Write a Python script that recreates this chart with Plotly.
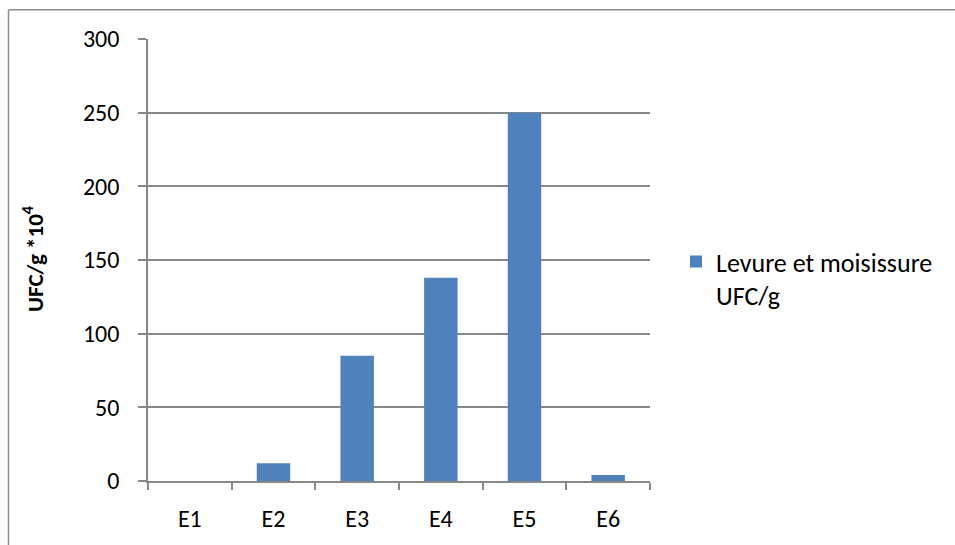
import plotly.graph_objects as go

# Yeast and mould counts per sample
samples = ["E1", "E2", "E3", "E4", "E5", "E6"]
counts = [0, 12, 85, 138, 250, 4]
series_name = "Levure et moisissure<br>UFC/g"
y_ticks = [0, 50, 100, 150, 200, 250, 300]

AXIS_GRAY = "#878787"
BAR_BLUE = "#4F81BD"
FONT = "Carlito, Lato, sans-serif"

fig = go.Figure(
    go.Bar(
        x=samples,
        y=counts,
        name=series_name,
        marker=dict(color=BAR_BLUE, line=dict(width=0)),
        showlegend=True,
    )
)

W, H = 955, 545
L, R, T, B = 148, 305, 39, 62
pw, ph = W - L - R, H - T - B

def px_x(px):
    return (px - L) / pw

def px_y(py):
    return (H - B - py) / ph

fig.update_layout(
    width=W,
    height=H,
    margin=dict(l=L, r=R, t=T, b=B, pad=0),
    paper_bgcolor="white",
    plot_bgcolor="white",
    bargap=0.6,
    font=dict(family=FONT, size=24, color="black"),
    xaxis=dict(
        type="category",
        showline=True,
        linecolor=AXIS_GRAY,
        linewidth=1.5,
        ticks="outside",
        tickson="boundaries",
        ticklen=7,
        tickwidth=1.5,
        tickcolor=AXIS_GRAY,
        showgrid=False,
        tickfont=dict(family=FONT, size=24),
        ticklabelstandoff=15,
    ),
    yaxis=dict(
        range=[0, 300],
        tickvals=y_ticks,
        showline=True,
        linecolor=AXIS_GRAY,
        linewidth=1.5,
        ticks="outside",
        ticklen=8,
        tickwidth=1.5,
        tickcolor=AXIS_GRAY,
        showgrid=True,
        gridcolor=AXIS_GRAY,
        gridwidth=1.5,
        zeroline=False,
        tickfont=dict(family=FONT, size=24),
        ticklabelstandoff=14,
    ),
    annotations=[
        dict(
            text="<b>UFC/g *10<sup>4</sup></b>",
            xref="paper", yref="paper",
            x=px_x(33), y=px_y(260),
            xanchor="center", yanchor="middle",
            textangle=-90, showarrow=False,
            font=dict(family=FONT, size=23, color="black"),
        )
    ],
    legend=dict(
        x=px_x(676),
        y=px_y(239),
        xanchor="left",
        yanchor="top",
        font=dict(family=FONT, size=26),
        bgcolor="rgba(0,0,0,0)",
        itemwidth=30,
        valign="top",
    ),
    shapes=[
        # outer chart frame (left and top edges)
        dict(type="line", xref="paper", yref="paper",
             x0=px_x(8.5), x1=px_x(W + 20), y0=px_y(9.5), y1=px_y(9.5),
             line=dict(color="#8C8C8C", width=1.5)),
        dict(type="line", xref="paper", yref="paper",
             x0=px_x(8.5), x1=px_x(8.5), y0=px_y(9.5), y1=px_y(H + 20),
             line=dict(color="#8C8C8C", width=1.5)),
    ],
)

fig.write_html("out.html")
